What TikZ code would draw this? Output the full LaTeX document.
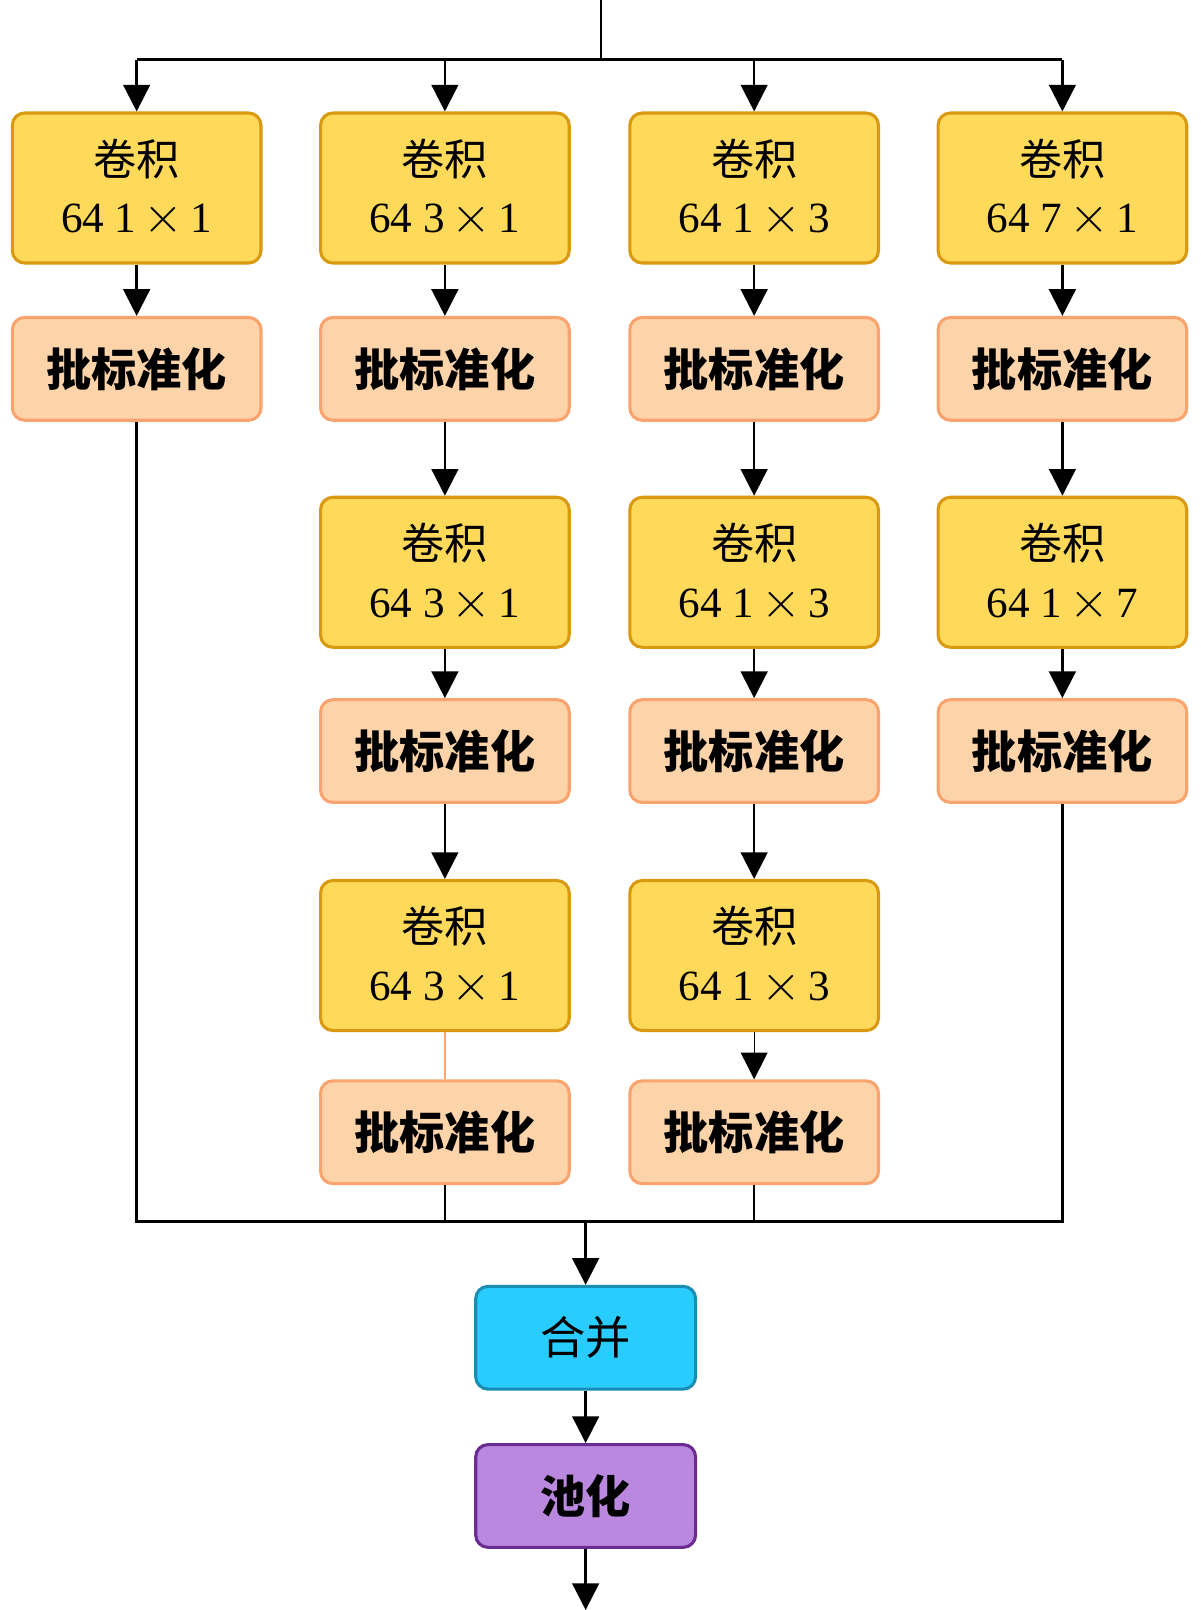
\documentclass[tikz,border=0pt]{standalone}
\usepackage{fontspec}
\setmainfont{Liberation Serif}
\newfontfamily\cjk{Noto Sans CJK SC}
\usetikzlibrary{arrows.meta}
\definecolor{convfill}{HTML}{FFD95A}
\definecolor{convdraw}{HTML}{D99A12}
\definecolor{bnfill}{HTML}{FDD4AA}
\definecolor{bndraw}{HTML}{F9A46E}
\definecolor{catfill}{HTML}{29CCFF}
\definecolor{catdraw}{HTML}{1A8DB2}
\definecolor{poolfill}{HTML}{BB88E0}
\definecolor{pooldraw}{HTML}{6A2C90}
\tikzset{
	box/.style={rounded corners=6pt, line width=1.5pt, minimum width=121pt, align=center},
	conv/.style={box, fill=convfill, draw=convdraw, minimum height=73pt, font=\fontsize{21}{28}\selectfont},
	bn/.style={box, fill=bnfill, draw=bndraw, minimum height=50pt, font=\cjk\bfseries\fontsize{22}{24}\selectfont},
	cat/.style={box, fill=catfill, draw=catdraw, minimum width=107pt, minimum height=50pt, font=\cjk\fontsize{22}{24}\selectfont},
	pool/.style={box, fill=poolfill, draw=pooldraw, minimum width=107pt, minimum height=50pt, font=\cjk\bfseries\fontsize{22}{24}\selectfont},
	arr/.style={line width=1.2pt, -{Triangle[length=13pt, width=13pt]}},
	ln/.style={line width=1.2pt}
}
\newcommand{\convtext}[1]{{\cjk 卷积}\\#1}
\newcommand{\bx}{\,{\fontsize{30}{28}\selectfont$\times$}\,}
\begin{document}
\begin{tikzpicture}[x=0.5pt, y=-0.5pt]
	\useasboundingbox (0,0) rectangle (1168,1567);
	
	% first row
	\node[conv] (c11) at ( 133,183) {\convtext{64 1\bx1}};
	\node[conv] (c21) at ( 433,183) {\convtext{64 3\bx1}};
	\node[conv] (c31) at ( 734,183) {\convtext{64 1\bx3}};
	\node[conv] (c41) at (1034,183) {\convtext{64 7\bx1}};
	\node[bn] (b11) at ( 133,359) {批标准化};
	\node[bn] (b21) at ( 433,359) {批标准化};
	\node[bn] (b31) at ( 734,359) {批标准化};
	\node[bn] (b41) at (1034,359) {批标准化};
	
	% second row
	\node[conv] (c22) at ( 433,557) {\convtext{64 3\bx1}};
	\node[conv] (c32) at ( 734,557) {\convtext{64 1\bx3}};
	\node[conv] (c42) at (1034,557) {\convtext{64 1\bx7}};
	\node[bn] (b22) at ( 433,731) {批标准化};
	\node[bn] (b32) at ( 734,731) {批标准化};
	\node[bn] (b42) at (1034,731) {批标准化};
	
	% third row
	\node[conv] (c23) at ( 433,930) {\convtext{64 3\bx1}};
	\node[conv] (c33) at ( 734,930) {\convtext{64 1\bx3}};
	\node[bn] (b23) at ( 433,1102) {批标准化};
	\node[bn] (b33) at ( 734,1102) {批标准化};
	
	\node[cat] (cat) at (570,1302) {合并};
	\node[pool] (pool) at (570,1456) {池化};
	
	\coordinate (in) at (585,0);
	\coordinate (split) at (585,58);
	\coordinate (join) at (570,1189);
	\coordinate (out) at (570,1567);
	
	% input
	\draw[ln] (in) -- (split);
	\draw[ln] (c11.north |- split) -- (c41.north |- split);
	\foreach \c in {c11,c21,c31,c41}
		\draw[arr] (\c.north |- split) -- (\c.north);
	
	% inside the branches
	\foreach \a/\b in {c11/b11,c21/b21,c31/b31,c41/b41,b21/c22,b31/c32,b41/c42,c22/b22,c32/b32,c42/b42,b22/c23,b32/c33}
		\draw[arr] (\a) -- (\b);
	\draw[bndraw, line width=1pt] (c23) -- (b23);
	\draw[line width=0.6pt, -{Triangle[length=13pt, width=13pt]}] (c33) -- (b33);
	
	% join
	\draw[ln] (b11.south) -- (b11.south |- join) -- (b42.south |- join) -- (b42.south);
	\draw[ln] (b23.south) -- (b23.south |- join);
	\draw[ln] (b33.south) -- (b33.south |- join);
	\draw[arr] (join) -- (cat);
	\draw[arr] (cat) -- (pool);
	\draw[arr] (pool) -- (out);
\end{tikzpicture}
\end{document}
